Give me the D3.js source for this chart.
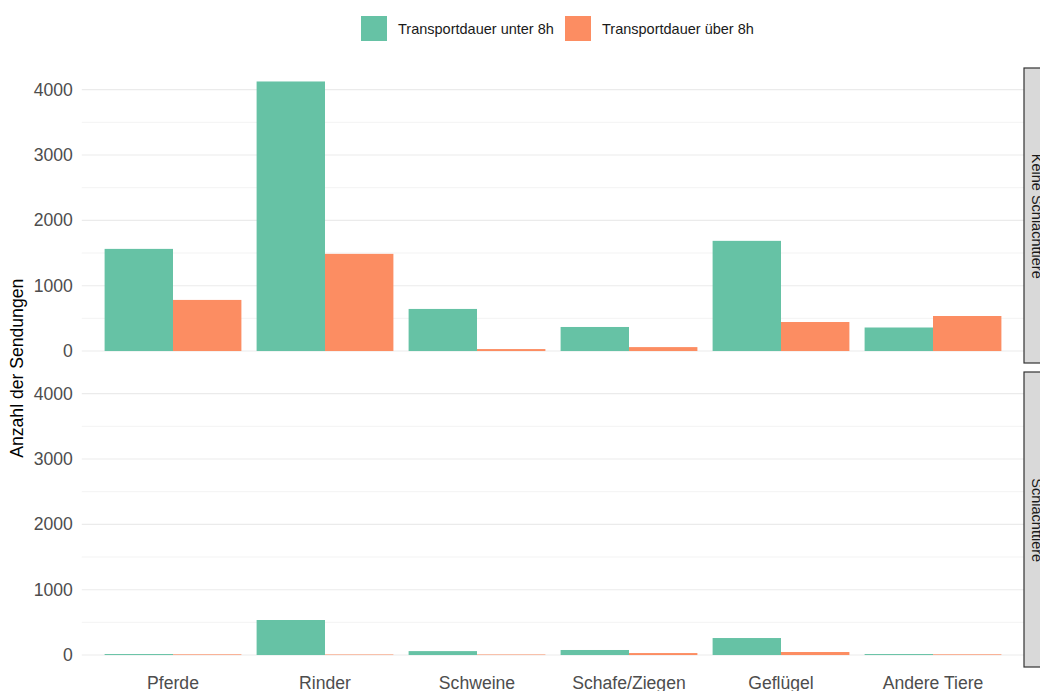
<!DOCTYPE html>
<html><head><meta charset="utf-8">
<script src="https://cdn.jsdelivr.net/npm/d3@7"></script>
<style>body{margin:0;background:#fff}svg{display:block;font-family:"Liberation Sans",Arial,sans-serif}</style>
</head><body>
<svg id="c" width="1040" height="691"></svg>
<script>
const categories = ["Pferde","Rinder","Schweine","Schafe/Ziegen","Geflügel","Andere Tiere"];
const seriesNames = ["Transportdauer unter 8h","Transportdauer über 8h"];
const facets = ["Keine Schlachttiere","Schlachttiere"];
const keineUnter = [1563, 4125, 644, 368, 1686, 360];
const keineUeber = [782, 1487, 30, 60, 444, 536];
const schlachtUnter = [15, 536, 60, 77, 260, 15];
const schlachtUeber = [10, 8, 8, 30, 46, 10];
const yTicks = [0, 1000, 2000, 3000, 4000];
const yMinor = [500, 1500, 2500, 3500];
const colors = ["#66C2A5", "#FC8D62"];

const facetData = [[keineUnter, keineUeber],[schlachtUnter, schlachtUeber]];
const svg = d3.select("#c");
const left = 81.8, right = 1024.2;
const panels = [{top:68, bottom:364.5},{top:372, bottom:668.5}];
const maxV = d3.max(facetData.flat(2));
const yDom = [-0.05*maxV, maxV*1.05];

const x = d3.scaleBand().domain(categories).range([left,right]).paddingInner(0.1).paddingOuter(0.15);
const xs = d3.scaleBand().domain(seriesNames).range([0, x.bandwidth()]).padding(0);

panels.forEach((p, fi) => {
  const y = d3.scaleLinear().domain(yDom).range([p.bottom, p.top]);
  const g = svg.append("g");
  g.selectAll("line.minor").data(yMinor).join("line")
    .attr("x1", left).attr("x2", right).attr("y1", d=>y(d)).attr("y2", d=>y(d))
    .attr("stroke","#EBEBEB").attr("stroke-width",0.6);
  g.selectAll("line.major").data(yTicks).join("line")
    .attr("x1", left).attr("x2", right).attr("y1", d=>y(d)).attr("y2", d=>y(d))
    .attr("stroke","#EBEBEB").attr("stroke-width",1.1);
  seriesNames.forEach((s, si) => {
    g.append("g").selectAll("rect").data(facetData[fi][si]).join("rect")
      .attr("x", (d,i)=>x(categories[i]) + xs(s))
      .attr("width", xs.bandwidth())
      .attr("y", d=>y(d)).attr("height", d=>y(0)-y(d))
      .attr("fill", colors[si]);
  });
  const ax = d3.axisLeft(y).tickValues(yTicks).tickSize(0).tickPadding(9).tickFormat(d3.format("d"));
  const axg = svg.append("g").attr("transform",`translate(${left},0)`).call(ax);
  axg.select(".domain").remove();
  axg.selectAll("text").attr("font-size",17.6).attr("fill","#4D4D4D").attr("font-family","Liberation Sans, Arial, sans-serif");
  svg.append("rect").attr("x",1024).attr("y",p.top).attr("width",30).attr("height",p.bottom-p.top-1.5)
    .attr("fill","#D9D9D9").attr("stroke","#333333").attr("stroke-width",1.2);
  svg.append("text").attr("transform",`translate(1032,${(p.top+p.bottom)/2}) rotate(90)`)
    .attr("text-anchor","middle").attr("font-size",14.5).attr("fill","#1A1A1A").text(facets[fi]);
});

const xa = d3.axisBottom(x).tickSize(0).tickPadding(0);
const xg = svg.append("g").attr("transform","translate(0,675)").call(xa);
xg.select(".domain").remove();
xg.selectAll("text").attr("font-size",17.6).attr("fill","#4D4D4D").attr("dy","0.8em").attr("font-family","Liberation Sans, Arial, sans-serif");

svg.append("text").attr("transform",`translate(23,${(panels[0].top+panels[1].bottom)/2}) rotate(-90)`)
  .attr("text-anchor","middle").attr("font-size",17.6).attr("fill","#000").text("Anzahl der Sendungen");

const legX = [361, 565];
seriesNames.forEach((s,i)=>{
  svg.append("rect").attr("x",legX[i]).attr("y",16).attr("width",26).attr("height",25).attr("fill",colors[i]);
  svg.append("text").attr("x",legX[i]+37).attr("y",33.5).attr("font-size",14.5).attr("fill","#1A1A1A").text(s);
});
</script>
</body></html>
